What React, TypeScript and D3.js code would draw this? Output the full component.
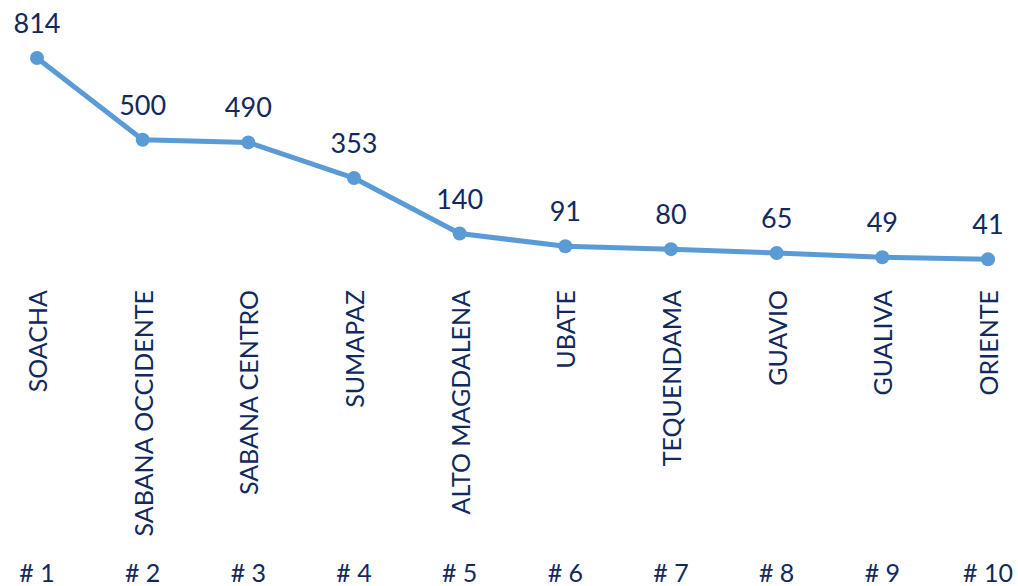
import React from "react";
import * as d3 from "d3";

const categories = ["SOACHA", "SABANA OCCIDENTE", "SABANA CENTRO", "SUMAPAZ", "ALTO MAGDALENA", "UBATE", "TEQUENDAMA", "GUAVIO", "GUALIVA", "ORIENTE"];
const values = [814, 500, 490, 353, 140, 91, 80, 65, 49, 41];
const ranks = ["# 1", "# 2", "# 3", "# 4", "# 5", "# 6", "# 7", "# 8", "# 9", "# 10"];

const W = 1018, H = 586;
const FONT = "Lato, 'Open Sans', sans-serif";
const TEXT = "#12295E";
const LINE = "#5B9BD5";

export default function App() {
  const x = d3.scalePoint<string>().domain(categories).range([37, 988]);
  const y = d3.scaleLinear().domain([0, 814]).range([270, 58]);
  const line = d3.line<number>().x((_, i) => x(categories[i])!).y((d) => y(d));
  return (
    <svg width={W} height={H} style={{ position: "absolute", left: 0, top: 0 }} fontFamily={FONT}>
      <path d={line(values)!} fill="none" stroke={LINE} strokeWidth={5} strokeLinejoin="round" />
      {values.map((v, i) => (
        <circle key={i} cx={x(categories[i])} cy={y(v)} r={7} fill={LINE} />
      ))}
      {values.map((v, i) => (
        <text key={"v" + i} x={x(categories[i])} y={y(v) - 25} textAnchor="middle" fontSize={27} fill={TEXT}>{v}</text>
      ))}
      {categories.map((c, i) => (
        <text key={"c" + i} transform={`translate(${x(c)! + 10},290) rotate(-90)`} textAnchor="end" fontSize={25} fill={TEXT}>{c}</text>
      ))}
      {ranks.map((r, i) => (
        <text key={"r" + i} x={x(categories[i])} y={582} textAnchor="middle" fontSize={25} fill={TEXT}>{r}</text>
      ))}
    </svg>
  );
}
